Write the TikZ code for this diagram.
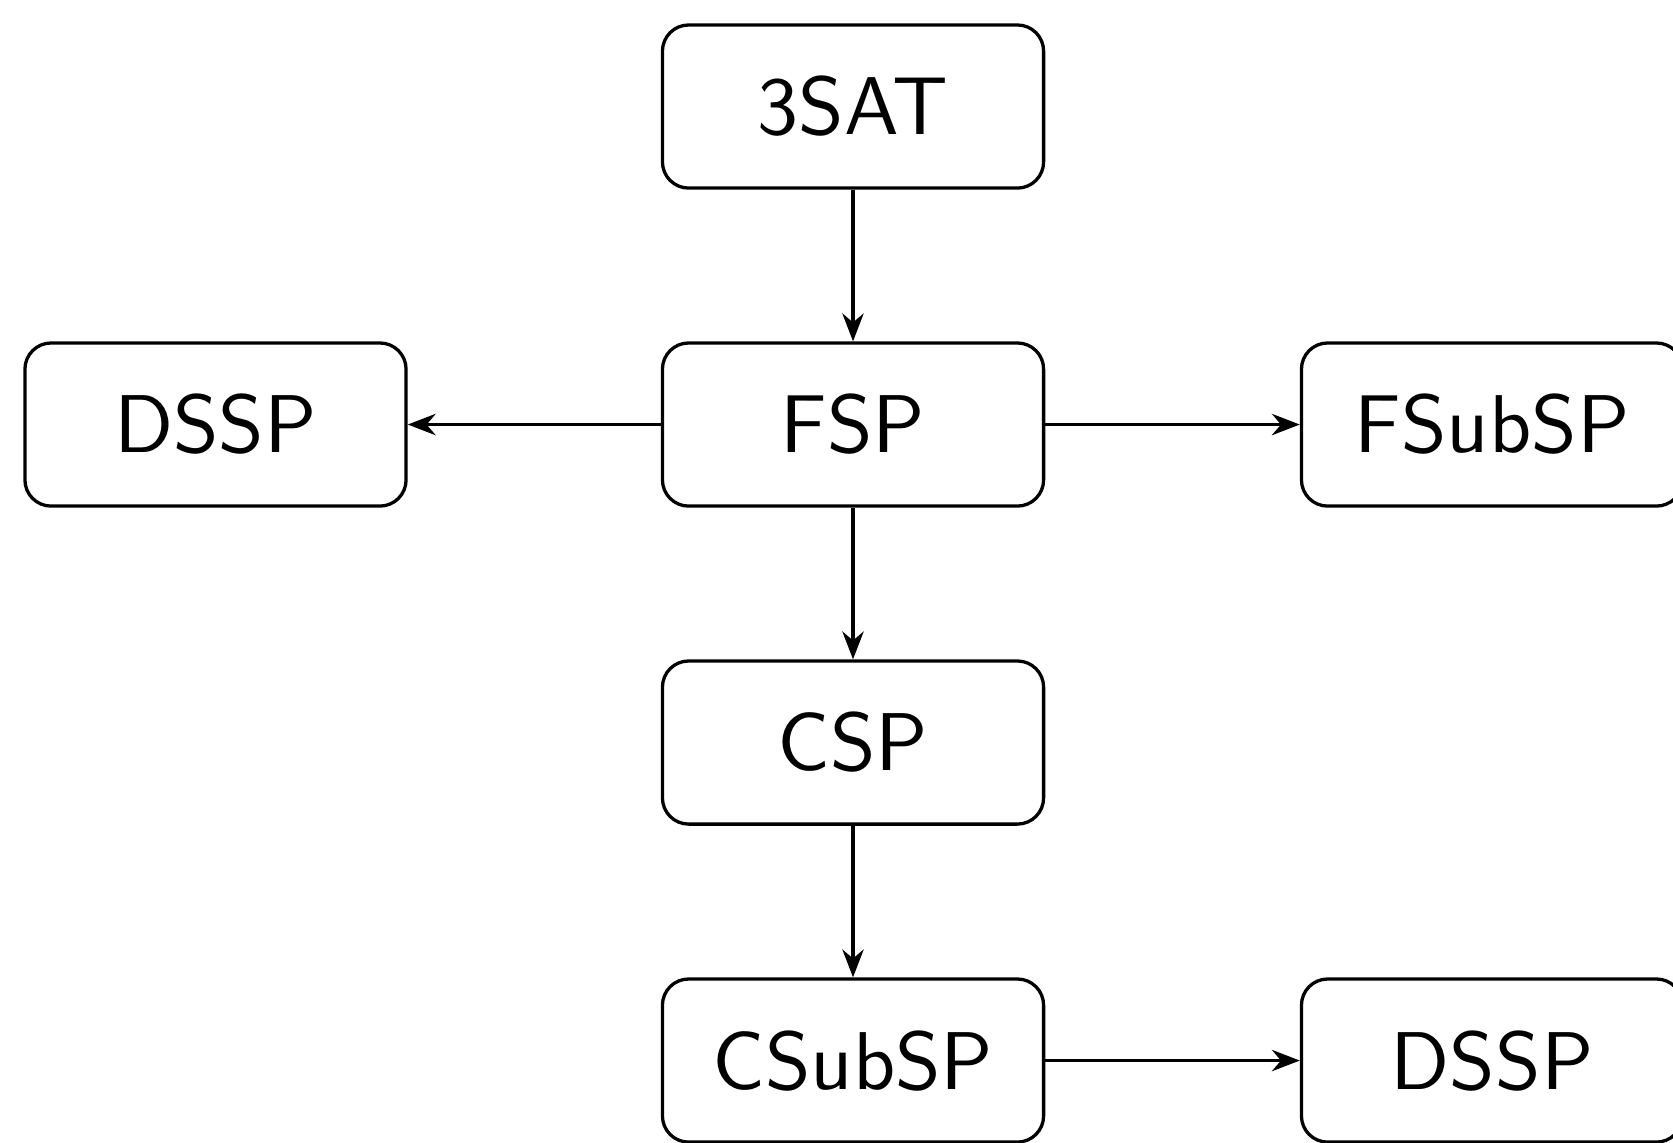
\documentclass[tikz,border=0pt]{standalone}
\usetikzlibrary{arrows.meta}
\begin{document}
\begin{tikzpicture}[x=0.122pt,y=-0.122pt,
  prob/.style={draw, rounded corners=3.2pt, minimum width=46.5pt, minimum height=19.9pt, inner sep=0pt, font=\sffamily, line width=0.4pt},
  red/.style={-{Stealth[length=3.4pt,width=2.6pt,inset=1.1pt]}, line width=0.4pt}]
\useasboundingbox (0,0) rectangle (1673,1142);
\node[prob] (sat) at (853,106.5) {3SAT};
\node[prob] (fsp) at (853,424.5) {FSP};
\node[prob] (dssp1) at (215.5,424.5) {DSSP};
\node[prob] (fsubsp) at (1492,424.5) {FSubSP};
\node[prob] (csp) at (853,742.5) {CSP};
\node[prob] (csubsp) at (853,1060.5) {CSubSP};
\node[prob] (dssp2) at (1492,1060.5) {DSSP};
\draw[red] (sat) -- (fsp);
\draw[red] (fsp) -- (dssp1);
\draw[red] (fsp) -- (fsubsp);
\draw[red] (fsp) -- (csp);
\draw[red] (csp) -- (csubsp);
\draw[red] (csubsp) -- (dssp2);
\end{tikzpicture}
\end{document}
